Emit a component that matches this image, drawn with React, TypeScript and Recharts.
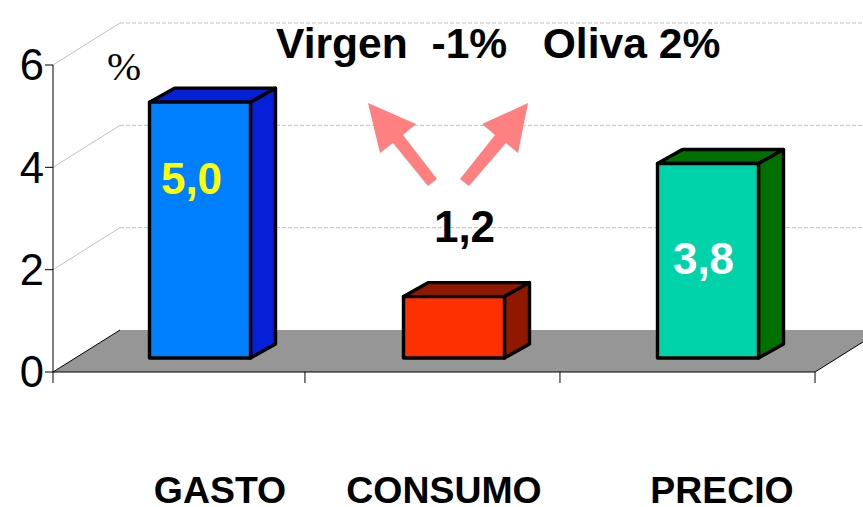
import React from "react";
import { BarChart, Bar, XAxis, YAxis, ReferenceArea, LabelList, Cell } from "recharts";

const categories = ["GASTO", "CONSUMO", "PRECIO"];
const values = [5.0, 1.2, 3.8];
const yTicks = [0, 2, 4, 6];
const frameTicks = [0, 0.992, 1.996, 3];
const title = "Virgen  -1%   Oliva 2%";
const unit = "%";

const frontColors = ["#0080ff", "#ff3000", "#00d2aa"];
const sideColors = ["#0520d8", "#901800", "#007000"];
const labelColors = ["#ffff00", "#000000", "#ffffff"];
const labelDx = [61.5, 80.5, 65.5];
const labelDy = [77.5, -68.6, 96];
const categoryDx = [40, 10, 34];

const data = categories.map((name, i) => ({ name, value: values[i], frame: i }));

const FONT = "'Liberation Sans', Arial, sans-serif";
const W = 863, H = 507;
const DEPTH_X = 25, DEPTH_Y = 14, BAR_DX = 20;

function Bar3D(props: any) {
  const { x, y, width, height, index } = props;
  const fx = x + BAR_DX - 0.5, fy = y - DEPTH_Y;
  const r = fx + width, b = fy + height;
  const stroke = { stroke: "#000", strokeWidth: 3.4, strokeLinejoin: "round" as const };
  return (
    <g>
      <polygon points={`${fx},${fy} ${fx + DEPTH_X},${fy - DEPTH_Y} ${r + DEPTH_X},${fy - DEPTH_Y} ${r},${fy}`} fill={sideColors[index]} {...stroke} />
      <polygon points={`${r},${fy} ${r + DEPTH_X},${fy - DEPTH_Y} ${r + DEPTH_X},${b - DEPTH_Y} ${r},${b}`} fill={sideColors[index]} {...stroke} />
      <rect x={fx} y={fy} width={width} height={height} fill={frontColors[index]} {...stroke} />
    </g>
  );
}

function Backdrop(props: any) {
  const { x, y, width, height } = props;
  const bottom = y + height, right = x + width;
  const wx = 67, wy = 42;
  const levels = yTicks.map((t) => bottom - (t / 6) * height);
  return (
    <g>
      {levels.slice(1).map((ly, i) => (
        <g key={i}>
          <line x1={x} y1={ly} x2={x + wx} y2={ly - wy} stroke="#c0c0c0" strokeWidth={1} />
          <line x1={x + wx} y1={ly - wy} x2={right + wx} y2={ly - wy} stroke="#c0c0c0" strokeWidth={1} strokeDasharray="4 2" />
        </g>
      ))}
      <polygon
        points={`${x},${bottom} ${x + wx},${bottom - wy} ${right + wx},${bottom - wy} ${right},${bottom}`}
        fill="#969696"
      />
      <line x1={x} y1={bottom} x2={x + wx} y2={bottom - wy} stroke="#000" strokeWidth={1} />
      <line x1={right} y1={bottom} x2={right + wx} y2={bottom - wy} stroke="#000" strokeWidth={1} />
      <polygon points="368,103 416,124 403,135 437,179 428,186 393,143 380,153" fill="#ff8080" />
      <polygon points="528,103 482,124 495,135 460,179 469,186 506,143 518,153" fill="#ff8080" />
      <text x={276} y={58} fontFamily={FONT} fontWeight="bold" fontSize={42.6} fill="#000" style={{ whiteSpace: "pre" }}>
        {title}
      </text>
      <text x={107} y={80} fontFamily="'Liberation Serif', serif" fontSize={41} fill="#000">
        {unit}
      </text>
    </g>
  );
}

function CategoryTick(props: any) {
  const { x, payload, index } = props;
  return (
    <text x={x + categoryDx[index]} y={503} textAnchor="middle" fontFamily={FONT} fontWeight="bold" fontSize={37.4} fill="#000">
      {payload.value}
    </text>
  );
}

function ValueLabel(props: any) {
  const { x, y, value, index } = props;
  return (
    <text x={x + labelDx[index]} y={y + labelDy[index]} textAnchor="middle" fontFamily={FONT} fontWeight="bold" fontSize={44} fill={labelColors[index]}>
      {Number(value).toFixed(1).replace(".", ",")}
    </text>
  );
}

export default function App() {
  return (
    <div style={{ position: "absolute", left: 0, top: 0, width: W, height: H, background: "#fff" }}>
      <BarChart width={W} height={H} data={data} barSize={101} margin={{ top: 65, right: 48, bottom: 0, left: 0 }}>
        <XAxis
          xAxisId="a-frame"
          dataKey="frame"
          type="number"
          domain={[0, 3]}
          ticks={frameTicks}
          tick={() => <g />}
          tickSize={11}
          height={11}
          stroke="#000"
          allowDataOverflow
        />
        <XAxis
          xAxisId="b-cat"
          dataKey="name"
          height={124}
          axisLine={false}
          tickLine={false}
          interval={0}
          tick={<CategoryTick />}
        />
        <YAxis
          width={53}
          domain={[0, 6]}
          ticks={yTicks}
          tickSize={8}
          tickMargin={1}
          stroke="#000"
          tick={{ fontFamily: FONT, fontSize: 43.5, fill: "#000" }}
        />
        <ReferenceArea xAxisId="a-frame" x1={0} x2={3} y1={0} y2={6} shape={<Backdrop />} ifOverflow="visible" />
        <Bar xAxisId="b-cat" dataKey="value" isAnimationActive={false} shape={<Bar3D />}>
          {data.map((d) => (
            <Cell key={d.name} />
          ))}
          <LabelList dataKey="value" content={<ValueLabel />} />
        </Bar>
      </BarChart>
    </div>
  );
}
